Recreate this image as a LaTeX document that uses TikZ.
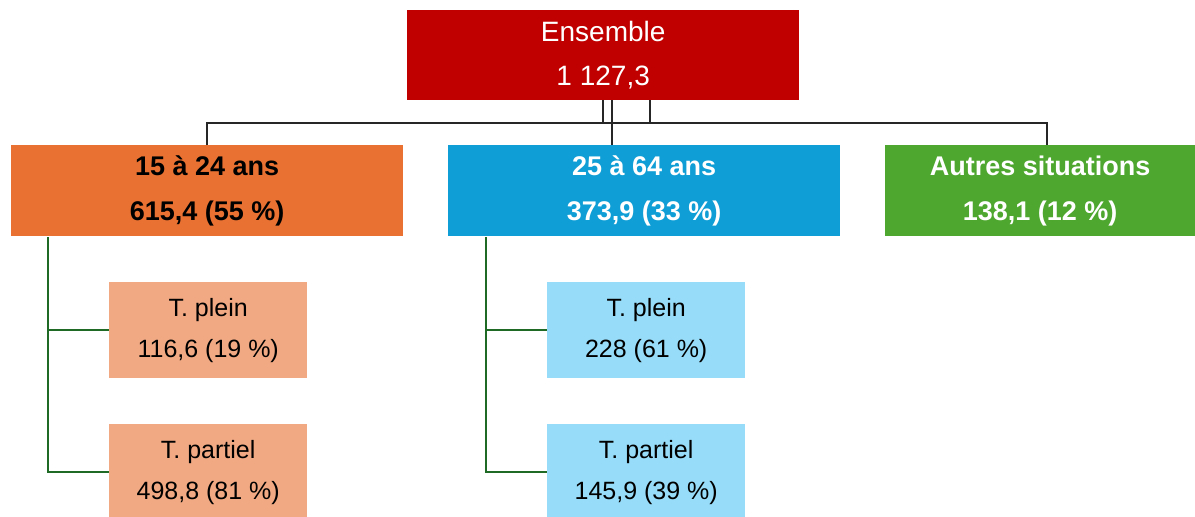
\documentclass[tikz,border=0pt]{standalone}
\usepackage{fontspec}
\setmainfont{Liberation Sans}
\definecolor{topred}{HTML}{C00000}
\definecolor{orangeA}{HTML}{E97132}
\definecolor{blueA}{HTML}{0F9ED5}
\definecolor{greenA}{HTML}{4EA72E}
\definecolor{orangeS}{HTML}{F1A983}
\definecolor{blueS}{HTML}{97DCF8}
\definecolor{treeG}{HTML}{1F6B26}
\definecolor{conn}{HTML}{262626}
\begin{document}
\begin{tikzpicture}[x=1pt,y=-1pt,
  box/.style={inner sep=0pt, align=center, anchor=north west},
  topbox/.style={box, fill=topred, text=white, minimum width=392pt, minimum height=90pt, font=\fontsize{28}{44}\selectfont},
  midbox/.style={box, minimum width=392pt, minimum height=91pt, font=\bfseries\fontsize{27}{45}\selectfont},
  subbox/.style={box, minimum width=198pt, minimum height=96pt, text=black, font=\fontsize{25}{41}\selectfont},
  topline/.style={conn, line width=2pt},
  tree/.style={treeG, line width=2.5pt}]
\useasboundingbox (0,0) rectangle (1195,517);
\clip (0,0) rectangle (1195,517);
% boxes
\node[topbox] (top) at (407,10) {Ensemble\\1 127,3};
\node[midbox, fill=orangeA, text=black] (young) at (11,145) {15 à 24 ans\\615,4 (55 \%)};
\node[midbox, fill=blueA, text=white] (adult) at (448,145) {25 à 64 ans\\373,9 (33 \%)};
\node[midbox, fill=greenA, text=white, minimum width=310pt] (other) at (885,145) {Autres situations\\138,1 (12 \%)};
\node[subbox, fill=orangeS] (yfull) at (109,282) {T. plein\\116,6 (19 \%)};
\node[subbox, fill=orangeS] (ypart) at (109,424) {T. partiel\\498,8 (81 \%)};
\node[subbox, fill=blueS] (afull) at (547,282) {T. plein\\228 (61 \%)};
\node[subbox, fill=blueS] (apart) at (547,424) {T. partiel\\145,9 (39 \%)};
% top connectors
\coordinate (busL) at (207,123);
\coordinate (busR) at (1047,123);
\draw[topline] (top.south) -- (top.south |- busL);
\draw[topline] ([xshift=9pt]top.south) -- ([xshift=9pt]top.south |- adult.north);
\draw[topline] ([xshift=47pt]top.south) -- ([xshift=47pt]top.south |- busL);
\draw[topline] (young.north -| busL) -- (busL) -- (busR) -- (busR |- other.north);
% trees
\coordinate (yt) at (48,237);
\draw[tree] (yt) -- (yt |- ypart.west) -- (ypart.west);
\draw[tree] (yt |- yfull.west) -- (yfull.west);
\coordinate (at) at (486,237);
\draw[tree] (at) -- (at |- apart.west) -- (apart.west);
\draw[tree] (at |- afull.west) -- (afull.west);
\end{tikzpicture}
\end{document}
